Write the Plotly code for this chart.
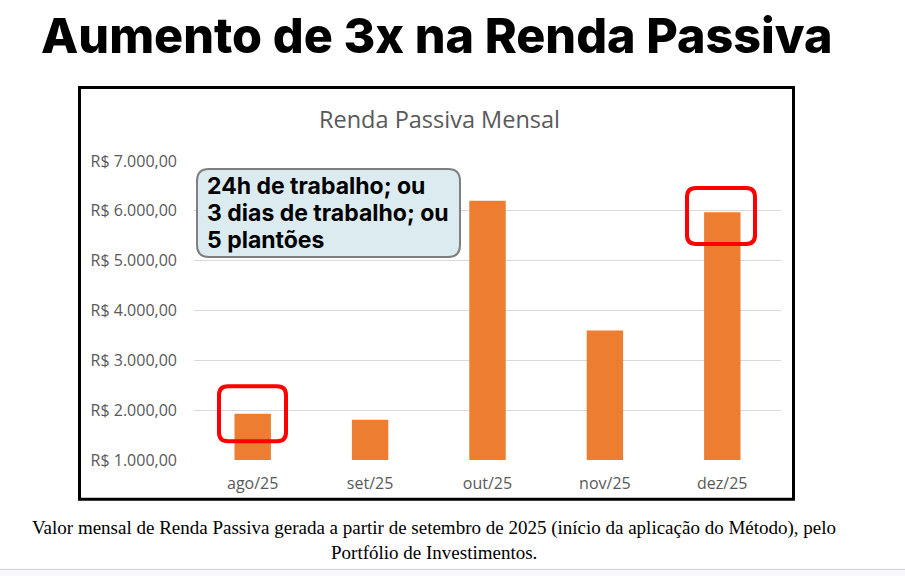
import plotly.graph_objects as go

# ---- data ----
months = ["ago/25", "set/25", "out/25", "nov/25", "dez/25"]
renda = [1930, 1810, 6200, 3600, 5970]
y_ticks = [1000, 2000, 3000, 4000, 5000, 6000, 7000]
y_tick_labels = ["R$ 1.000,00", "R$ 2.000,00", "R$ 3.000,00", "R$ 4.000,00",
                 "R$ 5.000,00", "R$ 6.000,00", "R$ 7.000,00"]
main_title = "Aumento de 3x na Renda Passiva"
chart_title = "Renda Passiva Mensal"
box_lines = ["24h de trabalho; ou", "3 dias de trabalho; ou", "5 plantões"]
caption_lines = ["Valor mensal de Renda Passiva gerada a partir de setembro de 2025 (início da aplicação do Método), pelo",
                 "Portfólio de Investimentos."]

W, H = 905, 576
L, R, T, B = 194, 781, 161, 459.7


def px(x):
    return (x - L) / (R - L)


def py(y):
    return (B - y) / (B - T)


fig = go.Figure()
fig.add_trace(go.Bar(x=months, y=renda, marker_color="#ED7D31", width=0.31,
                     marker_line_width=0, hoverinfo="skip"))

shapes = []
annotations = []

# chart frame
shapes.append(dict(type="rect", xref="paper", yref="paper",
                   x0=px(79.5), x1=px(793.5), y0=py(87.5), y1=py(499),
                   line=dict(color="black", width=3), fillcolor="rgba(0,0,0,0)", layer="below"))

# bottom band
shapes.append(dict(type="rect", xref="paper", yref="paper",
                   x0=px(0), x1=px(905), y0=py(569), y1=py(580),
                   line=dict(width=0), fillcolor="#F6F8FD", layer="below"))
shapes.append(dict(type="line", xref="paper", yref="paper",
                   x0=px(0), x1=px(905), y0=py(569), y1=py(569),
                   line=dict(color="#CFCFD4", width=1)))


def rounded_rect(x0, y0, x1, y1, r):
    X = lambda v: px(v)
    Y = lambda v: py(v)
    return (f"M {X(x0 + r)},{Y(y0)} L {X(x1 - r)},{Y(y0)} "
            f"Q {X(x1)},{Y(y0)} {X(x1)},{Y(y0 + r)} "
            f"L {X(x1)},{Y(y1 - r)} Q {X(x1)},{Y(y1)} {X(x1 - r)},{Y(y1)} "
            f"L {X(x0 + r)},{Y(y1)} Q {X(x0)},{Y(y1)} {X(x0)},{Y(y1 - r)} "
            f"L {X(x0)},{Y(y0 + r)} Q {X(x0)},{Y(y0)} {X(x0 + r)},{Y(y0)} Z")


# info box
shapes.append(dict(type="path", xref="paper", yref="paper",
                   path=rounded_rect(197, 169, 460, 257, 12),
                   line=dict(color="#7F7F7F", width=2), fillcolor="#DCEBEF"))

# red highlight boxes
red_boxes = [(219, 386, 286, 441), (687, 188, 755, 244)]
for (x0, y0, x1, y1) in red_boxes:
    shapes.append(dict(type="path", xref="paper", yref="paper",
                       path=rounded_rect(x0, y0, x1, y1, 9),
                       line=dict(color="#FF0000", width=4), fillcolor="rgba(0,0,0,0)"))

# main title
annotations.append(dict(text=main_title, xref="paper", yref="paper",
                        x=px(437), y=py(36), xanchor="center", yanchor="middle",
                        showarrow=False,
                        font=dict(family="Inter", size=48.5, color="black", weight=800)))
# chart title
annotations.append(dict(text=chart_title, xref="paper", yref="paper",
                        x=px(439), y=py(119), xanchor="center", yanchor="middle",
                        showarrow=False,
                        font=dict(family="Open Sans", size=23.5, color="#595959")))
# box text, one line each
for i, line in enumerate(box_lines):
    annotations.append(dict(text=line, xref="paper", yref="paper",
                            x=px(205), y=py(186 + 27 * i), xanchor="left", yanchor="middle",
                            align="left", showarrow=False,
                            font=dict(family="Inter", size=23, color="black", weight=700)))
# caption
for i, line in enumerate(caption_lines):
    annotations.append(dict(text=line, xref="paper", yref="paper",
                            x=px(434), y=py(528 + 24 * i), xanchor="center", yanchor="middle",
                            showarrow=False,
                            font=dict(family="Liberation Serif", size=19, color="black")))

fig.update_layout(
    width=W, height=H,
    margin=dict(l=L, r=W - R, t=T, b=H - B, pad=0),
    paper_bgcolor="white", plot_bgcolor="white",
    showlegend=False,
    shapes=shapes, annotations=annotations,
    xaxis=dict(showgrid=False, zeroline=False, showline=False, ticks="",
               tickfont=dict(family="Open Sans", size=16, color="#595959"),
               ticklabelstandoff=12, fixedrange=True),
    yaxis=dict(range=[1000, 7000], tickvals=y_ticks, ticktext=y_tick_labels,
               showgrid=True, gridcolor="#D9D9D9", gridwidth=1,
               zeroline=False, showline=False, ticks="",
               tickfont=dict(family="Open Sans", size=16, color="#595959"),
               ticklabelstandoff=16, fixedrange=True),
)

fig.write_html("out.html", config={"displayModeBar": False})
